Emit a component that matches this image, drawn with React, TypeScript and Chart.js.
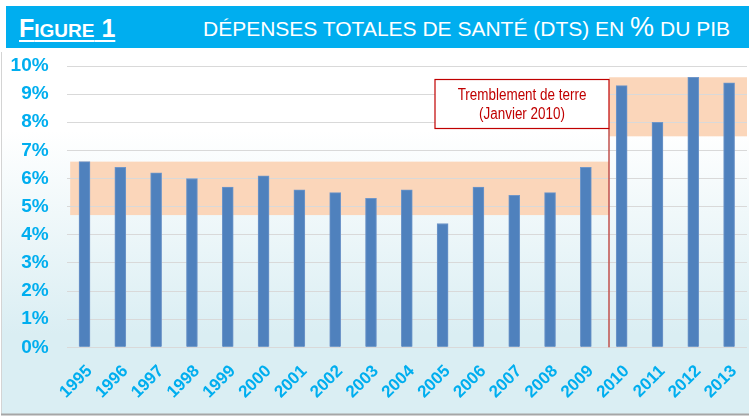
import React, { useEffect, useRef } from 'react';
import { Chart, registerables } from 'chart.js';

Chart.register(...registerables);

const years = ['1995', '1996', '1997', '1998', '1999', '2000', '2001', '2002', '2003', '2004', '2005', '2006', '2007', '2008', '2009', '2010', '2011', '2012', '2013'];
const dtsValues = [6.6, 6.4, 6.2, 6.0, 5.7, 6.1, 5.6, 5.5, 5.3, 5.6, 4.4, 5.7, 5.4, 5.5, 6.4, 9.3, 8.0, 9.6, 9.4];
const yTickValues = [0, 1, 2, 3, 4, 5, 6, 7, 8, 9, 10];
const bandBefore = [4.7, 6.6];
const bandAfter = [7.5, 9.6];
const eventYear = '2010';
const eventLabel = ['Tremblement de terre', '(Janvier 2010)'];
const eventBoxTop = 9.55;
const figureLabel = ['F', 'IGURE', ' 1'];
const titleParts = ['DÉPENSES TOTALES DE SANTÉ (DTS) EN ', '%', ' DU PIB'];

const BLUE = '#00AEEF';
const FONT = "'Liberation Sans', Arial, sans-serif";

const decorPlugin = {
  id: 'decor',
  beforeDraw(chart: any) {
    const { ctx, chartArea, scales } = chart;
    const x = scales.x;
    const y = scales.y;
    ctx.save();
    const g = ctx.createLinearGradient(0, 130, 0, 335);
    g.addColorStop(0, '#FFFFFF');
    g.addColorStop(1, '#DAEEF3');
    ctx.fillStyle = g;
    ctx.fillRect(1, 51, 748, 363);
    ctx.strokeStyle = '#D4D4D4';
    ctx.lineWidth = 1;
    ctx.beginPath();
    ctx.moveTo(1.5, 52);
    ctx.lineTo(1.5, 414);
    ctx.stroke();
    ctx.strokeStyle = '#A6A6A6';
    ctx.lineWidth = 2;
    ctx.beginPath();
    ctx.moveTo(1, 414.5);
    ctx.lineTo(749, 414.5);
    ctx.stroke();

    const idx = years.indexOf(eventYear);
    const step = x.getPixelForValue(1) - x.getPixelForValue(0);
    const evX = x.getPixelForValue(idx - 1) + 0.65 * step;
    const startX = x.getPixelForValue(0) - 0.4 * step;
    ctx.fillStyle = '#FBD6BA';
    ctx.fillRect(startX, y.getPixelForValue(bandBefore[1]), evX - startX, y.getPixelForValue(bandBefore[0]) - y.getPixelForValue(bandBefore[1]));
    ctx.fillRect(evX, y.getPixelForValue(bandAfter[1]), chartArea.right - evX, y.getPixelForValue(bandAfter[0]) - y.getPixelForValue(bandAfter[1]));
    ctx.restore();
  },
  afterDatasetsDraw(chart: any) {
    const { ctx, scales } = chart;
    const x = scales.x;
    const y = scales.y;
    const idx = years.indexOf(eventYear);
    const step = x.getPixelForValue(1) - x.getPixelForValue(0);
    const evX = Math.round(x.getPixelForValue(idx - 1) + 0.65 * step);
    const top = Math.round(y.getPixelForValue(eventBoxTop)) + 0.5;
    const boxW = 174;
    const boxH = 49;
    ctx.save();
    ctx.strokeStyle = '#C0504D';
    ctx.lineWidth = 1.5;
    ctx.beginPath();
    ctx.moveTo(evX, top + boxH);
    ctx.lineTo(evX, y.getPixelForValue(0));
    ctx.stroke();
    ctx.fillStyle = '#FFFFFF';
    ctx.fillRect(evX - boxW, top, boxW, boxH);
    ctx.strokeStyle = '#C00000';
    ctx.lineWidth = 1.2;
    ctx.strokeRect(evX - boxW, top, boxW, boxH);
    ctx.fillStyle = '#C00000';
    ctx.font = `16px ${FONT}`;
    ctx.textAlign = 'center';
    ctx.textBaseline = 'middle';
    const cx = evX - boxW / 2;
    ctx.translate(cx, 0);
    ctx.scale(0.84, 1);
    ctx.fillText(eventLabel[0], 0, top + 16.5);
    ctx.fillText(eventLabel[1], 0, top + 35.5);
    ctx.restore();
  },
};

export default function App() {
  const canvasRef = useRef<HTMLCanvasElement | null>(null);

  useEffect(() => {
    document.body.style.margin = '0';
    const canvas = canvasRef.current;
    if (!canvas) return;
    const chart = new Chart(canvas, {
      type: 'bar',
      data: {
        labels: years,
        datasets: [
          {
            data: dtsValues,
            backgroundColor: '#4F81BD',
            borderColor: '#6F96C9',
            borderWidth: 1,
            barThickness: 11,
          },
        ],
      },
      options: {
        animation: false,
        responsive: false,
        maintainAspectRatio: false,
        layout: { padding: { top: 66, right: 2, left: 0, bottom: 0 } },
        plugins: {
          legend: { display: false },
          tooltip: { enabled: false },
        },
        scales: {
          x: {
            grid: { display: false, drawTicks: false },
            border: { display: false },
            ticks: {
              autoSkip: false,
              minRotation: 45,
              maxRotation: 45,
              padding: 14,
              labelOffset: 5,
              color: BLUE,
              font: { family: FONT, size: 17, weight: 'bold' },
            },
            afterFit: (s: any) => {
              s.height = 68.7;
              s.paddingLeft = 0;
              s.paddingRight = 0;
            },
          },
          y: {
            min: 0,
            max: 10,
            afterBuildTicks: (s: any) => {
              s.ticks = yTickValues.map((v) => ({ value: v }));
            },
            ticks: {
              padding: 18,
              color: BLUE,
              font: { family: FONT, size: 19, weight: 'bold' },
              callback: (v: any) => `${v}%`,
            },
            grid: { color: '#D9D9D9', drawTicks: false, lineWidth: 1 },
            border: { display: false },
            afterFit: (s: any) => {
              s.width = 66.6;
            },
          },
        },
      },
      plugins: [decorPlugin],
    });
    return () => chart.destroy();
  }, []);

  return (
    <div style={{ position: 'relative', width: 749, height: 416, overflow: 'hidden', background: '#FFFFFF' }}>
      <canvas ref={canvasRef} width={749} height={416} style={{ position: 'absolute', left: 0, top: 0 }} />
      <div style={{ position: 'absolute', left: 6, top: 6, width: 743, height: 42, background: BLUE }} />
      <div
        style={{
          position: 'absolute',
          left: 19,
          top: 15.5,
          fontFamily: FONT,
          fontSize: 25,
          fontWeight: 'bold',
          lineHeight: '25px',
          color: '#FFFFFF',
          whiteSpace: 'nowrap',
          textDecoration: 'underline',
          textDecorationThickness: '2px',
          textUnderlineOffset: '3px',
        }}
      >
        <span>{figureLabel[0]}</span>
        <span style={{ fontSize: 19, lineHeight: 0 }}>{figureLabel[1]}</span>
        <span>{figureLabel[2]}</span>
      </div>
      <div
        style={{
          position: 'absolute',
          left: 203,
          top: 18,
          fontFamily: FONT,
          fontSize: 21,
          lineHeight: '21px',
          color: '#FFFFFF',
          whiteSpace: 'nowrap',
        }}
      >
        <span>{titleParts[0]}</span>
        <span style={{ fontSize: 27, lineHeight: 0 }}>{titleParts[1]}</span>
        <span>{titleParts[2]}</span>
      </div>
    </div>
  );
}
